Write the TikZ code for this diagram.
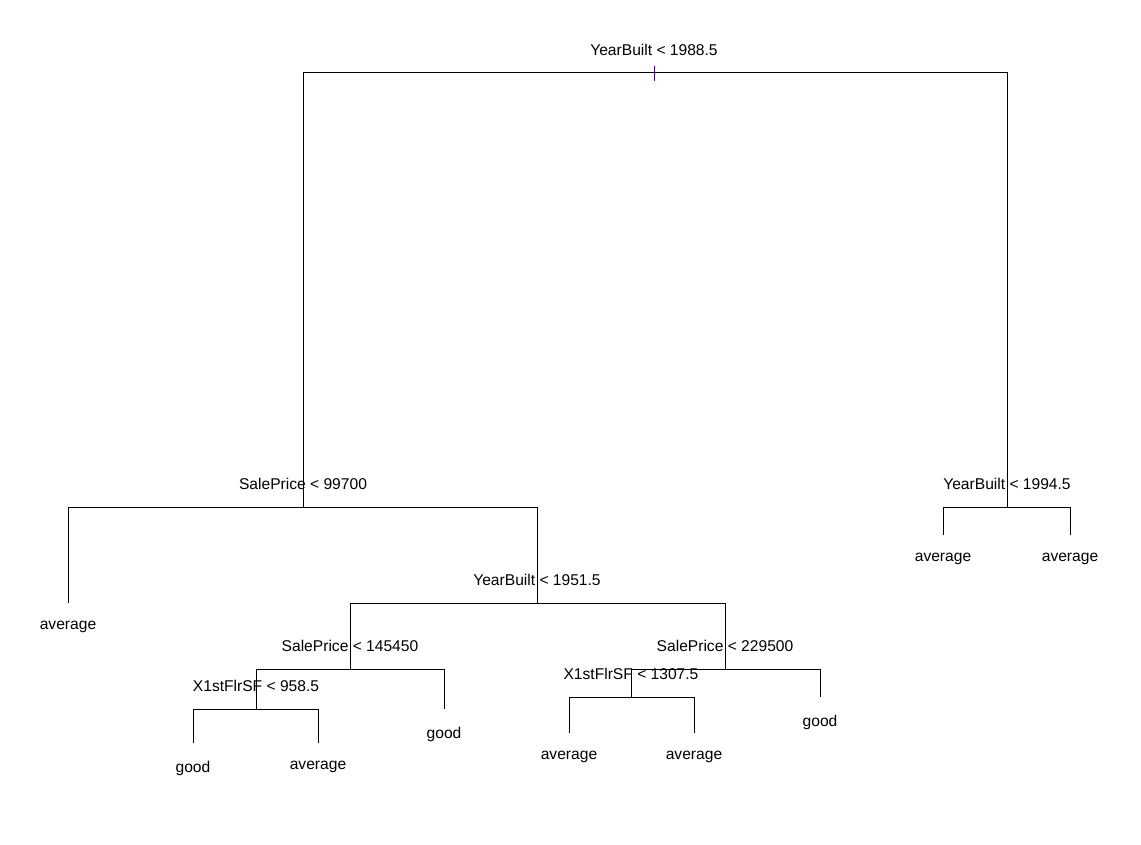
\documentclass[tikz,border=0pt]{standalone}
\usepackage{fontspec}
\setmainfont{Liberation Sans}
\usetikzlibrary{positioning}
\definecolor{tickcol}{RGB}{60,0,140}

\begin{document}
\begin{tikzpicture}[x=0.75pt,y=-0.75pt,line width=0.75pt,
  font=\fontsize{11.7}{14}\selectfont,
  split/.style={inner sep=0pt,anchor=south},
  leaf/.style={inner sep=0pt,anchor=north}]
\useasboundingbox (0,0) rectangle (1141,845);
% split points
\coordinate (s0) at (654,73);
\coordinate (s1) at (303,507);
\coordinate (s2) at (1007,507);
\coordinate (s3) at (537,603);
\coordinate (s4) at (350,669);
\coordinate (s5) at (725,669);
\coordinate (s6) at (256,709);
\coordinate (s7) at (631,697);
% leaf ends
\coordinate (t1) at (68,603);
\coordinate (t2) at (943,535);
\coordinate (t3) at (1070,535);
\coordinate (t4) at (444,709);
\coordinate (t5) at (193,743);
\coordinate (t6) at (318,743);
\coordinate (t7) at (569,733);
\coordinate (t8) at (694,733);
\coordinate (t9) at (820,697);
% branches
\foreach \a/\b in {s0/s1,s0/s2,s1/t1,s1/s3,s3/s4,s3/s5,s4/s6,s4/t4,
  s6/t5,s6/t6,s5/s7,s5/t9,s7/t7,s7/t8,s2/t2,s2/t3}
  \draw (\a) -| (\b);
\draw[tickcol] (s0) ++(0,-7) -- ++(0,15);
% split labels
\node[split,above=12.75pt of s0] (l0) {YearBuilt < 1988.5};
\node[split,above=12.75pt of s1] (l1) {SalePrice < 99700};
\node[split,above=12.75pt of s2] (l2) {YearBuilt < 1994.5};
\node[split,above=12.75pt of s3] (l3) {YearBuilt < 1951.5};
\node[split,above=12.75pt of s4] (l4) {SalePrice < 145450};
\node[split,above=12.75pt of s5] (l5) {SalePrice < 229500};
\node[split,above=12.75pt of s6] (l6) {X1stFlrSF < 958.5};
\node[split,above=12.75pt of s7] (l7) {X1stFlrSF < 1307.5};
% leaf labels
\node[leaf,below=13pt of t1] (v1) {average};
\node[leaf,below=13pt of t2] (v2) {average};
\node[leaf,below=13pt of t3] (v3) {average};
\node[leaf,below=13pt of t4] (v4) {good};
\node[leaf,below=13pt of t5] (v5) {good};
\node[leaf,below=13pt of t6] (v6) {average};
\node[leaf,below=13pt of t7] (v7) {average};
\node[leaf,below=13pt of t8] (v8) {average};
\node[leaf,below=13pt of t9] (v9) {good};
\end{tikzpicture}
\end{document}
